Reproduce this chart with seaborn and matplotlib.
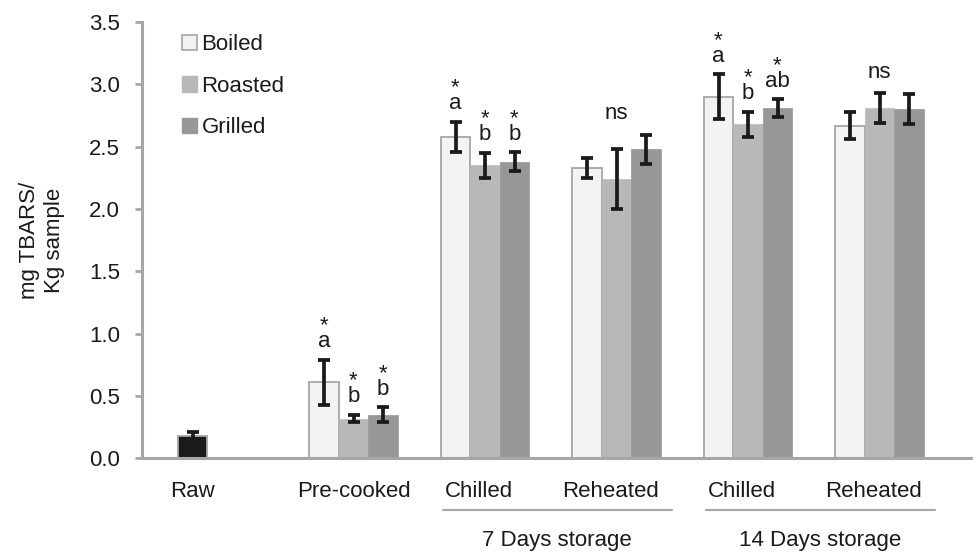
import numpy as np
import pandas as pd
import matplotlib
matplotlib.use("Agg")
import matplotlib.pyplot as plt
import matplotlib.transforms as mtransforms
from matplotlib.patches import Patch
import seaborn as sns

# ---- data ---------------------------------------------------------------
categories = ["Raw", "Pre-cooked", "Chilled 7d", "Reheated 7d", "Chilled 14d", "Reheated 14d"]
tick_labels = ["Raw", "Pre-cooked", "Chilled", "Reheated", "Chilled", "Reheated"]
methods = ["Boiled", "Roasted", "Grilled"]

boiled_mean = [0.18, 0.61, 2.58, 2.33, 2.90, 2.67]
boiled_err = [0.03, 0.18, 0.12, 0.08, 0.18, 0.11]
roasted_mean = [np.nan, 0.32, 2.35, 2.24, 2.68, 2.81]
roasted_err = [np.nan, 0.03, 0.10, 0.24, 0.10, 0.12]
grilled_mean = [np.nan, 0.35, 2.38, 2.48, 2.81, 2.80]
grilled_err = [np.nan, 0.06, 0.075, 0.115, 0.07, 0.12]

boiled_letters = ["", "a", "a", "", "a", ""]
roasted_letters = ["", "b", "b", "", "b", ""]
grilled_letters = ["", "b", "b", "", "ab", ""]
group_notes = ["", "", "", "ns", "", "ns"]

storage_groups = ["7 Days storage", "14 Days storage"]
storage_members = [(2, 3), (4, 5)]

# ---- styling ------------------------------------------------------------
face_colors = {"Boiled": "#f3f3f3", "Roasted": "#b8b8b8", "Grilled": "#979797"}
raw_color = "#1a1a1a"
axis_gray = "#a6a6a6"
ink = "#1a1a1a"
fs = 16

sns.set_style("white")
plt.rcParams["font.family"] = ["Liberation Sans", "DejaVu Sans"]
plt.rcParams["text.color"] = ink

# ---- long table ---------------------------------------------------------
rows = []
for m, means, errs, letters in zip(
    methods,
    [boiled_mean, roasted_mean, grilled_mean],
    [boiled_err, roasted_err, grilled_err],
    [boiled_letters, roasted_letters, grilled_letters],
):
    for c, v, e, lab in zip(categories, means, errs, letters):
        if not np.isnan(v):
            rows.append({"category": c, "method": m, "value": v, "err": e, "letter": lab})
df = pd.DataFrame(rows)

fig = plt.figure(figsize=(9.73, 5.56), dpi=100)
ax = fig.add_axes([0.146, 0.1754, 0.854, 0.785])

sns.barplot(
    data=df, x="category", y="value", hue="method",
    order=categories, hue_order=methods, palette=face_colors,
    width=0.673, errorbar=None, saturation=1, legend=False, ax=ax,
)

# bar edges, raw bar colour, error bars and significance letters
top_by_cat = {}
for container, m in zip(ax.containers, methods):
    present = set(df.loc[df["method"] == m, "category"])
    sub = df[df["method"] == m].set_index("category").loc[
        [c for c in categories if c in present]
    ]
    for bar, (cat, r) in zip(container, sub.iterrows()):
        xc = bar.get_x() + bar.get_width() / 2
        if m == "Boiled":
            bar.set_edgecolor(axis_gray)
            bar.set_linewidth(1.3)
        else:
            bar.set_edgecolor(face_colors[m])
            bar.set_linewidth(0.5)
        if cat == "Raw":
            bar.set_facecolor(raw_color)
        ax.errorbar(xc, r["value"], yerr=r["err"], fmt="none", ecolor=ink,
                    elinewidth=2.7, capsize=4.2, capthick=2.7, zorder=5)
        top = r["value"] + r["err"]
        top_by_cat[cat] = max(top_by_cat.get(cat, 0), top)
        if r["letter"]:
            # significance star stacked over the group letter
            ax.text(xc, top + 0.10, "*\n" + r["letter"], ha="center", va="baseline",
                    multialignment="center", linespacing=0.68,
                    fontsize=fs, color=ink)

for i, (cat, note) in enumerate(zip(categories, group_notes)):
    if note:
        ax.text(i, top_by_cat[cat] + 0.125, note, ha="center", va="baseline",
                fontsize=fs, color=ink)

# ---- axes ---------------------------------------------------------------
ax.set_ylim(0, 3.5)
ax.set_xlim(-0.608, 5.711)
yt = np.arange(0, 3.51, 0.5)
ax.set_yticks(yt)
ax.set_yticklabels([f"{t:.1f}" for t in yt], fontsize=fs)
ax.tick_params(axis="y", length=5, width=2, color=axis_gray, pad=11, left=True,
               labelcolor=ink)

raw_bar = ax.containers[0][0]
tick_pos = [raw_bar.get_x() + raw_bar.get_width() / 2] + list(range(1, len(categories)))
ax.set_xticks(tick_pos)
ax.set_xticklabels(tick_labels, fontsize=fs, color=ink)
ax.tick_params(axis="x", length=0, pad=16)
ax.set_xlabel("")
nudge = mtransforms.ScaledTranslation(-6 / 100, 0, fig.dpi_scale_trans)
for lab in ax.get_xticklabels()[2:]:
    lab.set_transform(lab.get_transform() + nudge)

ax.set_ylabel("mg TBARS/\nKg sample", fontsize=fs, linespacing=1.25, color=ink)
ax.yaxis.set_label_coords(-0.093, 0.5)

for side in ["top", "right"]:
    ax.spines[side].set_visible(False)
for side in ["left", "bottom"]:
    ax.spines[side].set_color(axis_gray)
    ax.spines[side].set_linewidth(2.2)

# storage period brackets under the category labels
trans = mtransforms.blended_transform_factory(ax.transData, ax.transAxes)
for name, (a, b) in zip(storage_groups, storage_members):
    x0, x1 = a - 0.32, b + 0.42
    ax.plot([x0, x1], [-0.118, -0.118], color=axis_gray, lw=1.5,
            transform=trans, clip_on=False)
    ax.text((x0 + x1) / 2, -0.187, name, ha="center", va="center",
            fontsize=fs, color=ink, transform=trans)

# legend
handles = [
    Patch(facecolor=face_colors["Boiled"], edgecolor=axis_gray, linewidth=1.2),
    Patch(facecolor=face_colors["Roasted"], edgecolor=face_colors["Roasted"]),
    Patch(facecolor=face_colors["Grilled"], edgecolor=face_colors["Grilled"]),
]
ax.legend(handles, methods, loc="upper left", frameon=False, fontsize=fs,
          handlelength=0.68, handleheight=0.68, handletextpad=0.2,
          labelspacing=0.93, borderpad=0, borderaxespad=0,
          bbox_to_anchor=(182 / 973, 1 - 34 / 556), bbox_transform=fig.transFigure)

fig.savefig("out.png", dpi=100)
